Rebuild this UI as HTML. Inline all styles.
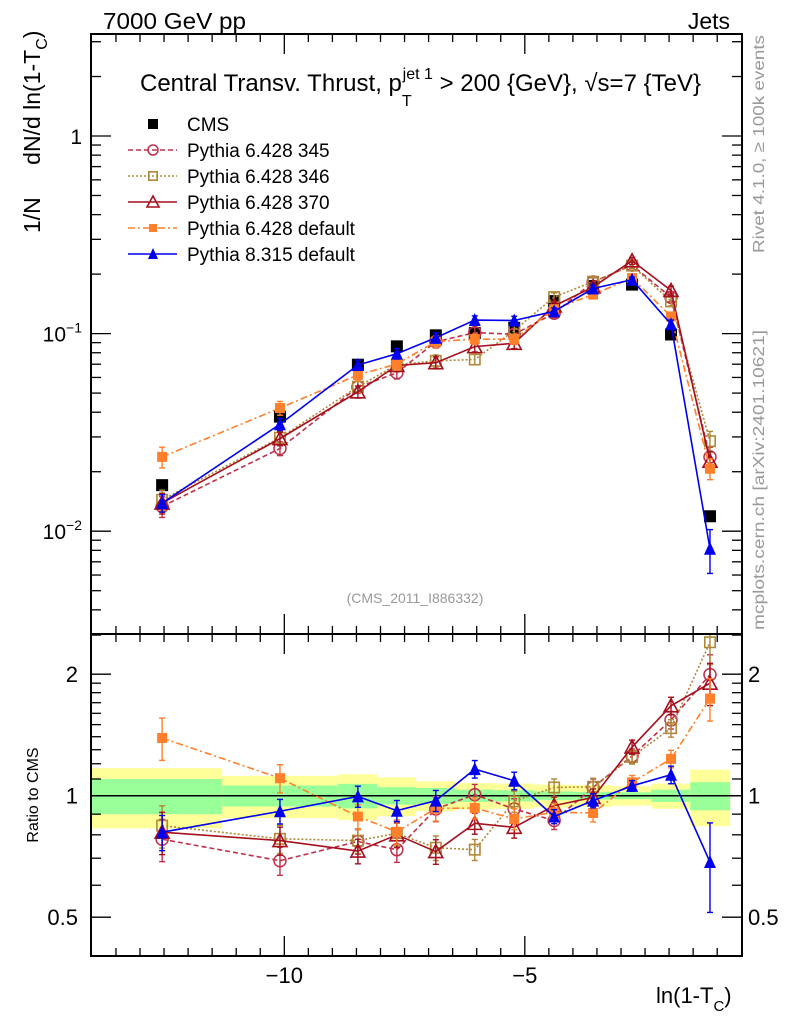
<!DOCTYPE html>
<html><head><meta charset="utf-8"><style>
html,body{margin:0;padding:0;background:#fff}
svg{display:block;font-family:"Liberation Sans",sans-serif}
</style></head><body>
<svg id="chart" width="786" height="1024" viewBox="0 0 786 1024" xmlns="http://www.w3.org/2000/svg">
<rect x="0" y="0" width="786" height="1024" fill="#fff"/>
<g id="bands"></g><g id="grid"></g><g id="series"></g><g id="axes"></g>
<text x="103" y="29" font-size="23" textLength="143" lengthAdjust="spacingAndGlyphs">7000 GeV pp</text>
<text x="730" y="29" font-size="23" text-anchor="end">Jets</text>
<text x="140" y="91" font-size="24">Central Transv. Thrust, p<tspan font-size="16" dy="15">T</tspan><tspan font-size="16" dx="-9" dy="-27">jet 1</tspan><tspan dy="12"> &gt; 200 {GeV}, √s=7 {TeV}</tspan></text>
<text transform="translate(40,233) rotate(-90)" font-size="23">1/N <tspan dx="26">dN/d ln(1-T</tspan><tspan font-size="16" dy="7">C</tspan><tspan dy="-7">)</tspan></text>
<text transform="translate(38,795) rotate(-90)" font-size="16" text-anchor="middle">Ratio to CMS</text>
<text x="656" y="1003" font-size="22">ln(1-T<tspan font-size="15" dy="8">C</tspan><tspan dy="-8">)</tspan></text>
<text transform="translate(764,253) rotate(-90)" font-size="16" fill="#999" textLength="218" lengthAdjust="spacingAndGlyphs">Rivet 4.1.0, ≥ 100k events</text>
<text transform="translate(764,630) rotate(-90)" font-size="16" fill="#999" textLength="300" lengthAdjust="spacingAndGlyphs">mcplots.cern.ch [arXiv:2401.10621]</text>
<text x="415" y="603" font-size="14" fill="#999" text-anchor="middle">(CMS_2011_I886332)</text>
<g id="legend"></g>
</svg>
<script>
const xCenters=[-12.54,-10.09,-8.47,-7.66,-6.85,-6.04,-5.22,-4.39,-3.58,-2.77,-1.96,-1.15];
const binEdges=[-14.0,-11.29,-8.88,-8.07,-7.26,-6.45,-5.64,-4.82,-3.99,-3.18,-2.37,-1.56,-0.73];
const cmsValues=[0.0171,0.038,0.0696,0.0862,0.098,0.1006,0.107,0.146,0.174,0.177,0.099,0.0119];
const cmsStatErr=[0.10,0.06,0.07,0.05,0.045,0.035,0.032,0.025,0.022,0.02,0.035,0.08];
const cmsTotErr=[0.17,0.12,0.13,0.11,0.085,0.075,0.072,0.065,0.062,0.055,0.072,0.16];
const ratio345=[0.78,0.69,0.77,0.735,0.927,1.006,0.927,0.868,1.048,1.255,1.54,1.995];
const ratio346=[0.843,0.782,0.774,0.807,0.743,0.735,0.968,1.048,1.052,1.248,1.47,2.40];
const ratio370=[0.812,0.774,0.729,0.80,0.727,0.854,0.835,0.945,0.99,1.32,1.67,1.90];
const ratioDef=[1.39,1.105,0.888,0.814,0.93,0.932,0.876,0.91,0.906,1.079,1.234,1.74];
const ratioP8=[0.812,0.915,0.996,0.918,0.972,1.164,1.089,0.888,0.972,1.058,1.127,0.685];
const mcRelErr=[0.12,0.08,0.07,0.07,0.07,0.06,0.06,0.05,0.05,0.04,0.05,0.12];
const p8RelErr=[0.10,0.07,0.06,0.06,0.06,0.05,0.05,0.04,0.04,0.03,0.05,0.25];
const xTickLabels=[-10,-5];
const mainTickLabels=[0.01,0.1,1];
const ratioTickLabels=[0.5,1,2];

const NS="http://www.w3.org/2000/svg";
const L=91,R=742,MT=34,MB=634,RT=634,RB=956;
const X=v=>765.3+v*48.1;
const YM=v=>136-Math.log10(v)*197.6;
const YR=v=>795.7-Math.log10(v)*403.6;
function el(tag,attrs,parent){const e=document.createElementNS(NS,tag);for(const k in attrs)e.setAttribute(k,attrs[k]);parent.appendChild(e);return e;}
const G=id=>document.getElementById(id);

const bands=G('bands');
for(let i=0;i<cmsValues.length;i++){
  const x1=X(binEdges[i]),x2=X(binEdges[i+1]);
  const y=el('rect',{x:x1,y:YR(1+cmsTotErr[i]),width:x2-x1,height:YR(1-cmsTotErr[i])-YR(1+cmsTotErr[i]),fill:'#ffff99'},bands);
  
  
  const g=el('rect',{x:x1,y:YR(1+cmsStatErr[i]),width:x2-x1,height:YR(1-cmsStatErr[i])-YR(1+cmsStatErr[i]),fill:'#99ff99'},bands);
  
  
}
const one=el('line',{x1:L,x2:R,y1:YR(1),y2:YR(1),stroke:'#000','stroke-width':1.5},bands);



const ax=G('axes');
function frame(t,b,name){const r=el('rect',{x:L,y:t,width:R-L,height:b-t,fill:'none',stroke:'#000','stroke-width':2},ax);

}
frame(MT,MB,'main-frame');frame(RT,RB,'ratio-frame');
function ln(x1,y1,x2,y2){el('line',{x1,y1,x2,y2,stroke:'#000','stroke-width':1.3},ax);}
for(let v=-14;v<=-0.5;v+=0.5){
  const x=X(v);if(x<L+2||x>R-2)continue;const major=(v%5===0),len=major?20:8;
  ln(x,MT,x,MT+len);ln(x,MB,x,MB-len);ln(x,RT,x,RT+len);ln(x,RB,x,RB-len);
}
xTickLabels.forEach(v=>{const t=el('text',{x:X(v),y:983,'font-size':22,'text-anchor':'middle'},ax);t.textContent='\u2212'+Math.abs(v);

});
for(let d=-3;d<=0;d++)for(let m=1;m<=9;m++){
  const v=m*Math.pow(10,d),y=YM(v);if(y<MT+1||y>MB-1)continue;const len=m===1?20:10;
  ln(L,y,L+len,y);ln(R,y,R-len,y);
}
mainTickLabels.forEach(v=>{const y=YM(v);const t=el('text',{x:82,y:y+8,'font-size':21,'text-anchor':'end'},ax);


if(v===1)t.textContent='1';else{t.textContent='10';const s=el('tspan',{'font-size':14,dy:-9},t);s.textContent='\u2212'+Math.round(-Math.log10(v));}});
[0.4,0.5,0.6,0.7,0.8,0.9,1,1.1,1.2,1.3,1.4,1.5,1.6,1.7,1.8,1.9,2,2.5].forEach(v=>{
  const y=YR(v);if(y<RT+1||y>RB-1)return;const len=(v===0.5||v===1||v===2)?20:10;ln(L,y,L+len,y);ln(R,y,R-len,y);});
ratioTickLabels.forEach(v=>{const y=YR(v);
  const t=el('text',{x:78,y:y+8,'font-size':22,'text-anchor':'end'},ax);t.textContent=String(v);
  
  
  const t2=el('text',{x:748,y:y+8,'font-size':22},ax);t2.textContent=String(v);
  
  });

function marker(g,kind,x,y,color,s){
  if(kind==='fsq')return el('rect',{x:x-s,y:y-s,width:2*s,height:2*s,fill:color},g);
  if(kind==='osq')return el('rect',{x:x-s+0.8,y:y-s+0.8,width:2*s-1.6,height:2*s-1.6,fill:'none',stroke:color,'stroke-width':1.6},g);
  if(kind==='oc')return el('circle',{cx:x,cy:y,r:s,fill:'none',stroke:color,'stroke-width':1.5},g);
  if(kind==='otri')return el('path',{d:`M${x},${y-s-1}L${x+s+1},${y+s}L${x-s-1},${y+s}Z`,fill:'none',stroke:color,'stroke-width':1.6},g);
  if(kind==='ftri')return el('path',{d:`M${x},${y-s-1}L${x+s},${y+s}L${x-s},${y+s}Z`,fill:color},g);
}
const series=G('series');
const mcs=[
 {name:'pythia-6428-345',label:'Pythia 6.428 345',r:ratio345,e:mcRelErr,c:'#c0304a',dash:'5,3',m:'oc',s:6},
 {name:'pythia-6428-346',label:'Pythia 6.428 346',r:ratio346,e:mcRelErr,c:'#b08838',dash:'2,2',m:'osq',s:6},
 {name:'pythia-6428-370',label:'Pythia 6.428 370',r:ratio370,e:mcRelErr,c:'#a50f1e',dash:'',m:'otri',s:6},
 {name:'pythia-6428-default',label:'Pythia 6.428 default',r:ratioDef,e:mcRelErr,c:'#ff7f2a',dash:'7,3,2,3',m:'fsq',s:5},
 {name:'pythia-8315-default',label:'Pythia 8.315 default',r:ratioP8,e:p8RelErr,c:'#0000ee',dash:'',m:'ftri',s:6}
];
function drawSeries(vals,errs,Y,color,dash,mk,s,name,clipT,clipB){
  const g=el('g',{},series);
  
  
  const pts=vals.map((v,i)=>[X(xCenters[i]),Y(v)]);
  el('polyline',{points:pts.map(p=>p.join(',')).join(' '),fill:'none',stroke:color,'stroke-width':1.6,'stroke-dasharray':dash},g);
  vals.forEach((v,i)=>{const x=pts[i][0];let y1=Y(v*(1+errs[i])),y2=Y(v*(1-errs[i]));
    y1=Math.max(y1,clipT);y2=Math.min(y2,clipB);
    el('line',{x1:x,x2:x,y1,y2,stroke:color,'stroke-width':1.4},g);
    el('line',{x1:x-3,x2:x+3,y1,y2:y1,stroke:color,'stroke-width':1.4},g);
    el('line',{x1:x-3,x2:x+3,y1:y2,y2,stroke:color,'stroke-width':1.4},g);
    if(pts[i][1]>clipT&&pts[i][1]<clipB){const m=marker(g,mk,x,pts[i][1],color,s);
    
    }
  });
}
(function(){const g=el('g',{},series);
 
 
 cmsValues.forEach((v,i)=>{const m=marker(g,'fsq',X(xCenters[i]),YM(v),'#000',6);
 
 });})();
mcs.forEach(m=>{
  const main=m.r.map((r,i)=>r*cmsValues[i]);
  drawSeries(main,m.e,YM,m.c,m.dash,m.m,m.s,m.name+'-main',MT,MB);
  drawSeries(m.r,m.e,YR,m.c,m.dash,m.m,m.s,m.name+'-ratio',RT,RB);
});

const lg=G('legend');
const rows=[{label:'CMS',c:'#000',m:'fsq',s:5,dash:null}].concat(mcs.map(m=>({label:m.label,c:m.c,m:m.m,s:m.s-1,dash:m.dash})));
rows.forEach((r,i)=>{const y=124+i*26;const g=el('g',{},lg);
  
  
  if(r.dash!==null)el('line',{x1:128,x2:177,y1:y,y2:y,stroke:r.c,'stroke-width':1.4,'stroke-dasharray':r.dash},g);
  marker(g,r.m,153,y,r.c,r.s);
  const t=el('text',{x:187,y:y+7,'font-size':19},g);t.textContent=r.label;});
</script>
</body></html>
